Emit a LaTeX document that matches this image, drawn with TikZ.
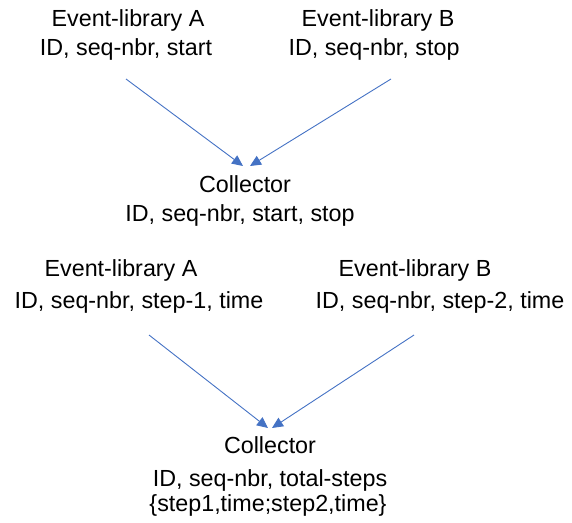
\documentclass[tikz,border=0pt]{standalone}
\usepackage{fontspec}
\setmainfont{Liberation Sans}
\usetikzlibrary{arrows.meta}
\definecolor{linkblue}{RGB}{68,114,196}

\begin{document}
\begin{tikzpicture}[x=1pt,y=-1pt,
                    lbl/.style={anchor=base,inner sep=0pt,font=\fontsize{23.3}{28}\selectfont},
                    link/.style={draw=linkblue,line width=0.9pt,-{Triangle[length=11pt,width=10pt]}}]
\useasboundingbox (0,0) rectangle (572,522);
% first case: start and stop
\node[lbl] (libA1) at (128,26) {Event-library A};
\node[lbl] (libA2) at (126,55) {ID, seq-nbr, start};
\node[lbl] (libB1) at (378,26) {Event-library B};
\node[lbl] (libB2) at (374,55) {ID, seq-nbr, stop};
\node[lbl] (coll1) at (245,192) {Collector};
\node[lbl] (coll2) at (240,221) {ID, seq-nbr, start, stop};
\coordinate (srcA) at (126,79);
\coordinate (srcB) at (391,79);
\coordinate (dstA) at (243,166);
\coordinate (dstB) at (250,166);
\draw[link] (srcA) -- (dstA);
\draw[link] (srcB) -- (dstB);

% second case: steps with time
\node[lbl] (stepA1) at (121,276) {Event-library A};
\node[lbl] (stepA2) at (139,308) {ID, seq-nbr, step-1, time};
\node[lbl] (stepB1) at (415,276) {Event-library B};
\node[lbl] (stepB2) at (440,308) {ID, seq-nbr, step-2, time};
\node[lbl] (coll3) at (270,453) {Collector};
\node[lbl] (coll4) at (270,486) {ID, seq-nbr, total-steps};
\node[lbl] (coll5) at (268,511) {\{step1,time;step2,time\}};
\coordinate (srcC) at (149,335);
\coordinate (srcD) at (414,335);
\coordinate (dstC) at (268,428);
\coordinate (dstD) at (272,428);
\draw[link] (srcC) -- (dstC);
\draw[link] (srcD) -- (dstD);
\end{tikzpicture}
\end{document}
